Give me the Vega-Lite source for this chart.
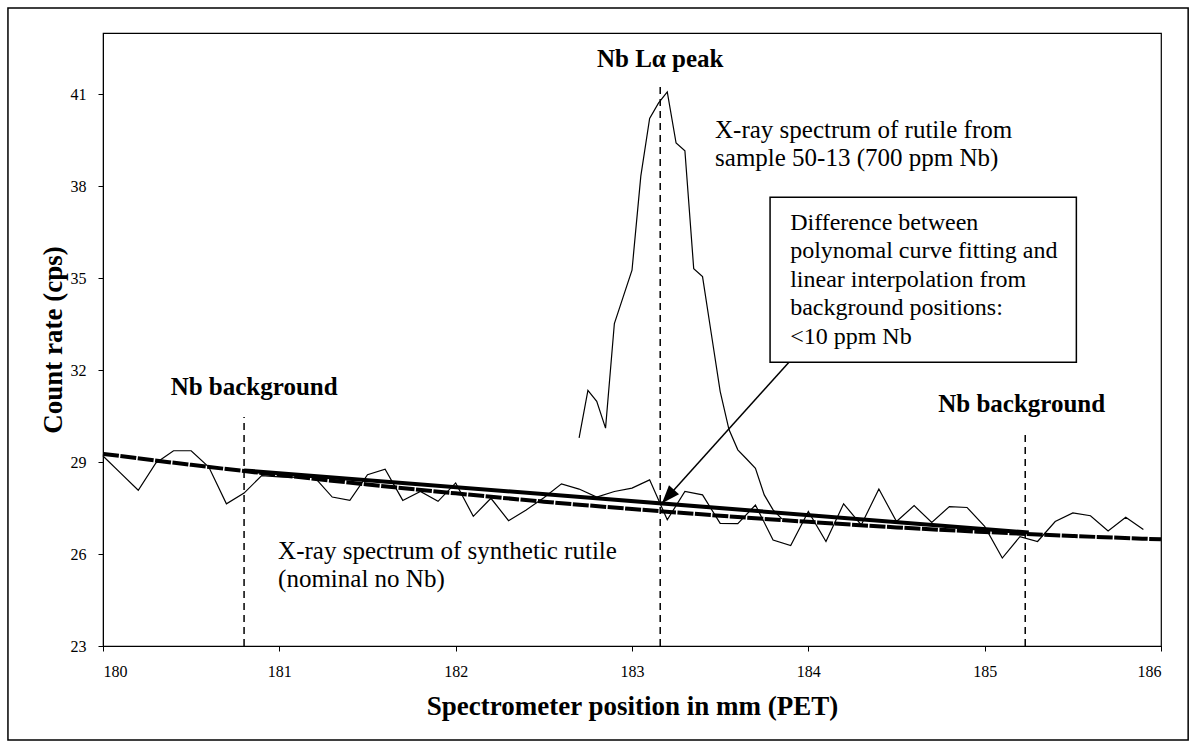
{
  "$schema": "https://vega.github.io/schema/vega-lite/v6.json",
  "width": 1058,
  "height": 613,
  "autosize": "none",
  "padding": {"left": 103, "top": 33, "right": 36, "bottom": 103},
  "background": "white",
  "config": {
    "view": {"stroke": "black", "strokeWidth": 1.2},
    "font": "Liberation Serif",
    "axis": {
      "domainColor": "black", "tickColor": "black", "labelColor": "black", "titleColor": "black",
      "labelFont": "Liberation Serif", "titleFont": "Liberation Serif",
      "labelFontSize": 16, "titleFontSize": 27, "titleFontWeight": "bold",
      "grid": false, "tickSize": 5
    }
  },
  "datasets": {
    "synthetic": [
      {"x": 180.0, "y": 29.20}, {"x": 180.1, "y": 28.64}, {"x": 180.2, "y": 28.08}, {"x": 180.3, "y": 28.97},
      {"x": 180.4, "y": 29.37}, {"x": 180.5, "y": 29.37}, {"x": 180.6, "y": 28.84}, {"x": 180.7, "y": 27.64},
      {"x": 180.8, "y": 27.99}, {"x": 180.9, "y": 28.56}, {"x": 181.0, "y": 28.52}, {"x": 181.1, "y": 28.50},
      {"x": 181.2, "y": 28.50}, {"x": 181.3, "y": 27.86}, {"x": 181.4, "y": 27.75}, {"x": 181.5, "y": 28.59},
      {"x": 181.6, "y": 28.77}, {"x": 181.7, "y": 27.75}, {"x": 181.8, "y": 28.04}, {"x": 181.9, "y": 27.72},
      {"x": 182.0, "y": 28.32}, {"x": 182.1, "y": 27.23}, {"x": 182.2, "y": 27.82}, {"x": 182.3, "y": 27.09},
      {"x": 182.4, "y": 27.44}, {"x": 182.5, "y": 27.84}, {"x": 182.6, "y": 28.29}, {"x": 182.7, "y": 28.12},
      {"x": 182.8, "y": 27.86}, {"x": 182.9, "y": 28.04}, {"x": 183.0, "y": 28.15}, {"x": 183.1, "y": 28.42},
      {"x": 183.2, "y": 27.12}, {"x": 183.3, "y": 28.04}, {"x": 183.4, "y": 27.93}, {"x": 183.5, "y": 27.00},
      {"x": 183.6, "y": 26.99}, {"x": 183.7, "y": 27.60}, {"x": 183.8, "y": 26.46}, {"x": 183.9, "y": 26.28},
      {"x": 184.0, "y": 27.39}, {"x": 184.1, "y": 26.41}, {"x": 184.2, "y": 27.64}, {"x": 184.3, "y": 26.95},
      {"x": 184.4, "y": 28.12}, {"x": 184.5, "y": 27.06}, {"x": 184.6, "y": 27.58}, {"x": 184.7, "y": 27.03},
      {"x": 184.8, "y": 27.55}, {"x": 184.9, "y": 27.52}, {"x": 185.0, "y": 26.90}, {"x": 185.1, "y": 25.87},
      {"x": 185.2, "y": 26.57}, {"x": 185.3, "y": 26.41}, {"x": 185.4, "y": 27.06}, {"x": 185.5, "y": 27.34},
      {"x": 185.6, "y": 27.25}, {"x": 185.7, "y": 26.75}, {"x": 185.8, "y": 27.20}, {"x": 185.9, "y": 26.80}
    ],
    "sample": [
      {"x": 182.70, "y": 29.79}, {"x": 182.75, "y": 31.34}, {"x": 182.80, "y": 30.98}, {"x": 182.85, "y": 30.11},
      {"x": 182.90, "y": 33.52}, {"x": 182.95, "y": 34.39}, {"x": 183.00, "y": 35.26}, {"x": 183.05, "y": 38.33},
      {"x": 183.10, "y": 40.21}, {"x": 183.15, "y": 40.71}, {"x": 183.20, "y": 41.08}, {"x": 183.25, "y": 39.41},
      {"x": 183.30, "y": 39.16}, {"x": 183.35, "y": 35.31}, {"x": 183.40, "y": 35.05}, {"x": 183.45, "y": 33.18},
      {"x": 183.50, "y": 31.31}, {"x": 183.55, "y": 30.06}, {"x": 183.60, "y": 29.40}, {"x": 183.65, "y": 29.10},
      {"x": 183.70, "y": 28.80}, {"x": 183.75, "y": 27.93}, {"x": 183.80, "y": 27.44}, {"x": 183.85, "y": 27.15}
    ],
    "poly": [
      {"x": 180.0, "y": 29.27}, {"x": 180.5, "y": 28.91}, {"x": 181.0, "y": 28.58}, {"x": 181.5, "y": 28.27},
      {"x": 182.0, "y": 27.98}, {"x": 182.5, "y": 27.71}, {"x": 183.0, "y": 27.47}, {"x": 183.5, "y": 27.25},
      {"x": 184.0, "y": 27.05}, {"x": 184.5, "y": 26.87}, {"x": 185.0, "y": 26.72}, {"x": 185.5, "y": 26.59},
      {"x": 186.0, "y": 26.48}
    ],
    "linear": [
      {"x": 180.8, "y": 28.73}, {"x": 185.25, "y": 26.70}
    ],
    "markers": [
      {"x": 180.8, "y": 23, "y2": 30.47},
      {"x": 183.16, "y": 23, "y2": 41.24},
      {"x": 185.23, "y": 23, "y2": 29.9}
    ],
    "arrow": [
      {"x": 183.89, "y": 32.26, "x2": 183.17, "y2": 27.66}
    ],
    "box": [
      {"x": 183.783, "x2": 185.52, "y": 32.26, "y2": 37.64}
    ],
    "boldlabels": [
      {"x": 183.16, "y": 41.89, "label": "Nb Lα peak"},
      {"x": 180.857, "y": 31.2, "label": "Nb background"},
      {"x": 185.21, "y": 30.65, "label": "Nb background"}
    ],
    "notes": [
      {"x": 183.471, "y": 40.22, "label": "X-ray spectrum of rutile from\nsample 50-13 (700 ppm Nb)"},
      {"x": 180.993, "y": 26.5, "label": "X-ray spectrum of synthetic rutile\n(nominal no Nb)"}
    ],
    "boxtext": [
      {"x": 183.897, "y": 37.2, "label": "Difference between\npolynomal curve fitting and\nlinear interpolation from\nbackground positions:\n<10 ppm Nb"}
    ]
  },
  "layer": [
    {
      "data": {"values": [{}]},
      "mark": {"type": "rect", "fill": null, "stroke": "black", "strokeWidth": 1.5, "clip": false},
      "encoding": {
        "x": {"datum": 179.461, "type": "quantitative", "scale": {"domain": [180, 186], "nice": false, "zero": false},
              "axis": {"title": "Spectrometer position in mm (PET)", "values": [180, 181, 182, 183, 184, 185, 186], "format": "d", "labelPadding": 12, "titlePadding": 14}},
        "x2": {"datum": 186.154},
        "y": {"datum": 43.817, "type": "quantitative", "scale": {"domain": [23, 43], "nice": false, "zero": false},
              "axis": {"title": "Count rate (cps)", "values": [23, 26, 29, 32, 35, 38, 41], "labelPadding": 12, "titlePadding": 3}},
        "y2": {"datum": 19.93}
      }
    },
    {
      "data": {"name": "markers"},
      "mark": {"type": "rule", "stroke": "black", "strokeWidth": 1.5, "strokeDash": [7, 5]},
      "encoding": {"x": {"field": "x", "type": "quantitative"}, "y": {"field": "y", "type": "quantitative"}, "y2": {"field": "y2"}}
    },
    {
      "data": {"name": "synthetic"},
      "mark": {"type": "line", "stroke": "black", "strokeWidth": 1.2},
      "encoding": {"x": {"field": "x", "type": "quantitative"}, "y": {"field": "y", "type": "quantitative"}}
    },
    {
      "data": {"name": "sample"},
      "mark": {"type": "line", "stroke": "black", "strokeWidth": 1.2},
      "encoding": {"x": {"field": "x", "type": "quantitative"}, "y": {"field": "y", "type": "quantitative"}}
    },
    {
      "data": {"name": "poly"},
      "mark": {"type": "line", "stroke": "black", "strokeWidth": 4, "strokeDash": [16, 1.5], "interpolate": "monotone"},
      "encoding": {"x": {"field": "x", "type": "quantitative"}, "y": {"field": "y", "type": "quantitative"}}
    },
    {
      "data": {"name": "linear"},
      "mark": {"type": "line", "stroke": "black", "strokeWidth": 4},
      "encoding": {"x": {"field": "x", "type": "quantitative"}, "y": {"field": "y", "type": "quantitative"}}
    },
    {
      "data": {"name": "arrow"},
      "mark": {"type": "rule", "stroke": "black", "strokeWidth": 1.5},
      "encoding": {"x": {"field": "x", "type": "quantitative"}, "y": {"field": "y", "type": "quantitative"}, "x2": {"field": "x2"}, "y2": {"field": "y2"}}
    },
    {
      "data": {"name": "arrow"},
      "mark": {"type": "point", "shape": "M0,0L-0.75,2L0.75,2Z", "filled": true, "fill": "black", "stroke": null, "size": 324, "angle": 222, "opacity": 1},
      "encoding": {"x": {"field": "x2", "type": "quantitative"}, "y": {"field": "y2", "type": "quantitative"}}
    },
    {
      "data": {"name": "box"},
      "mark": {"type": "rect", "fill": "white", "stroke": "black", "strokeWidth": 1.5},
      "encoding": {"x": {"field": "x", "type": "quantitative"}, "x2": {"field": "x2"}, "y": {"field": "y", "type": "quantitative"}, "y2": {"field": "y2"}}
    },
    {
      "data": {"name": "boldlabels"},
      "mark": {"type": "text", "font": "Liberation Serif", "fontWeight": "bold", "fontSize": 25, "align": "center", "baseline": "alphabetic", "color": "black", "clip": false},
      "encoding": {"x": {"field": "x", "type": "quantitative"}, "y": {"field": "y", "type": "quantitative"}, "text": {"field": "label"}}
    },
    {
      "data": {"name": "notes"},
      "mark": {"type": "text", "font": "Liberation Serif", "fontSize": 25, "align": "left", "baseline": "top", "lineBreak": "\n", "lineHeight": 28, "color": "black", "clip": false},
      "encoding": {"x": {"field": "x", "type": "quantitative"}, "y": {"field": "y", "type": "quantitative"}, "text": {"field": "label"}}
    },
    {
      "data": {"name": "boxtext"},
      "mark": {"type": "text", "font": "Liberation Serif", "fontSize": 24, "align": "left", "baseline": "top", "lineBreak": "\n", "lineHeight": 28.5, "color": "black", "clip": false},
      "encoding": {"x": {"field": "x", "type": "quantitative"}, "y": {"field": "y", "type": "quantitative"}, "text": {"field": "label"}}
    }
  ]
}
